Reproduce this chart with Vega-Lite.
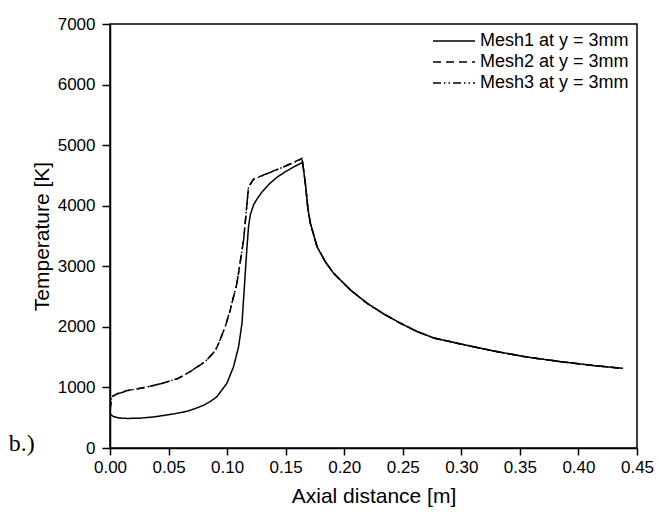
{
  "$schema": "https://vega.github.io/schema/vega-lite/v6.json",
  "width": 527,
  "height": 424,
  "autosize": {"type": "none"},
  "padding": {"left": 110, "top": 24, "right": 22, "bottom": 64},
  "background": "white",
  "config": {
    "view": {"stroke": "black", "strokeWidth": 1.5},
    "font": "Liberation Sans",
    "axis": {
      "domainColor": "black",
      "domainWidth": 1.5,
      "tickColor": "black",
      "tickWidth": 1.5,
      "labelColor": "black",
      "titleColor": "black",
      "labelFont": "Liberation Sans",
      "titleFont": "Liberation Sans",
      "labelFontSize": 17,
      "titleFontSize": 21,
      "titleFontWeight": "normal",
      "grid": false,
      "labelOverlap": false,
      "labelFlush": false
    },
    "legend": {
      "labelFont": "Liberation Sans",
      "labelFontSize": 18,
      "labelColor": "black"
    }
  },
  "layer": [
    {
      "data": {
        "values": [
          {"series": "Mesh1 at y = 3mm", "x": 0.0, "y": 560},
          {"series": "Mesh1 at y = 3mm", "x": 0.003, "y": 520},
          {"series": "Mesh1 at y = 3mm", "x": 0.008, "y": 495},
          {"series": "Mesh1 at y = 3mm", "x": 0.015, "y": 488},
          {"series": "Mesh1 at y = 3mm", "x": 0.025, "y": 492},
          {"series": "Mesh1 at y = 3mm", "x": 0.037, "y": 512},
          {"series": "Mesh1 at y = 3mm", "x": 0.045, "y": 535},
          {"series": "Mesh1 at y = 3mm", "x": 0.055, "y": 565},
          {"series": "Mesh1 at y = 3mm", "x": 0.0656, "y": 605},
          {"series": "Mesh1 at y = 3mm", "x": 0.0727, "y": 650},
          {"series": "Mesh1 at y = 3mm", "x": 0.0798, "y": 705},
          {"series": "Mesh1 at y = 3mm", "x": 0.0855, "y": 765},
          {"series": "Mesh1 at y = 3mm", "x": 0.0913, "y": 847},
          {"series": "Mesh1 at y = 3mm", "x": 0.0998, "y": 1068},
          {"series": "Mesh1 at y = 3mm", "x": 0.1055, "y": 1342},
          {"series": "Mesh1 at y = 3mm", "x": 0.1098, "y": 1672},
          {"series": "Mesh1 at y = 3mm", "x": 0.1127, "y": 2058},
          {"series": "Mesh1 at y = 3mm", "x": 0.1155, "y": 2884},
          {"series": "Mesh1 at y = 3mm", "x": 0.1169, "y": 3300},
          {"series": "Mesh1 at y = 3mm", "x": 0.1183, "y": 3654},
          {"series": "Mesh1 at y = 3mm", "x": 0.1198, "y": 3850},
          {"series": "Mesh1 at y = 3mm", "x": 0.1225, "y": 4010},
          {"series": "Mesh1 at y = 3mm", "x": 0.1255, "y": 4110},
          {"series": "Mesh1 at y = 3mm", "x": 0.1295, "y": 4220},
          {"series": "Mesh1 at y = 3mm", "x": 0.1360, "y": 4360},
          {"series": "Mesh1 at y = 3mm", "x": 0.1426, "y": 4470},
          {"series": "Mesh1 at y = 3mm", "x": 0.1500, "y": 4565},
          {"series": "Mesh1 at y = 3mm", "x": 0.1568, "y": 4640},
          {"series": "Mesh1 at y = 3mm", "x": 0.1645, "y": 4715},
          {"series": "Mesh1 at y = 3mm", "x": 0.1668, "y": 4370},
          {"series": "Mesh1 at y = 3mm", "x": 0.1690, "y": 3950},
          {"series": "Mesh1 at y = 3mm", "x": 0.1711, "y": 3710},
          {"series": "Mesh1 at y = 3mm", "x": 0.1768, "y": 3323},
          {"series": "Mesh1 at y = 3mm", "x": 0.1840, "y": 3070},
          {"series": "Mesh1 at y = 3mm", "x": 0.191, "y": 2884},
          {"series": "Mesh1 at y = 3mm", "x": 0.2053, "y": 2609},
          {"series": "Mesh1 at y = 3mm", "x": 0.2196, "y": 2389},
          {"series": "Mesh1 at y = 3mm", "x": 0.2340, "y": 2210},
          {"series": "Mesh1 at y = 3mm", "x": 0.2481, "y": 2059},
          {"series": "Mesh1 at y = 3mm", "x": 0.2620, "y": 1925},
          {"series": "Mesh1 at y = 3mm", "x": 0.2766, "y": 1815},
          {"series": "Mesh1 at y = 3mm", "x": 0.3, "y": 1715},
          {"series": "Mesh1 at y = 3mm", "x": 0.3279, "y": 1600},
          {"series": "Mesh1 at y = 3mm", "x": 0.3565, "y": 1500},
          {"series": "Mesh1 at y = 3mm", "x": 0.385, "y": 1425},
          {"series": "Mesh1 at y = 3mm", "x": 0.4135, "y": 1360},
          {"series": "Mesh1 at y = 3mm", "x": 0.4378, "y": 1315},

          {"series": "Mesh2 at y = 3mm", "x": 0.0, "y": 640},
          {"series": "Mesh2 at y = 3mm", "x": 0.0014, "y": 847},
          {"series": "Mesh2 at y = 3mm", "x": 0.0071, "y": 903},
          {"series": "Mesh2 at y = 3mm", "x": 0.015, "y": 950},
          {"series": "Mesh2 at y = 3mm", "x": 0.03, "y": 1000},
          {"series": "Mesh2 at y = 3mm", "x": 0.045, "y": 1070},
          {"series": "Mesh2 at y = 3mm", "x": 0.0584, "y": 1150},
          {"series": "Mesh2 at y = 3mm", "x": 0.0684, "y": 1260},
          {"series": "Mesh2 at y = 3mm", "x": 0.0813, "y": 1425},
          {"series": "Mesh2 at y = 3mm", "x": 0.0898, "y": 1600},
          {"series": "Mesh2 at y = 3mm", "x": 0.0941, "y": 1783},
          {"series": "Mesh2 at y = 3mm", "x": 0.0985, "y": 2010},
          {"series": "Mesh2 at y = 3mm", "x": 0.1027, "y": 2278},
          {"series": "Mesh2 at y = 3mm", "x": 0.1084, "y": 2719},
          {"series": "Mesh2 at y = 3mm", "x": 0.1141, "y": 3434},
          {"series": "Mesh2 at y = 3mm", "x": 0.1183, "y": 4314},
          {"series": "Mesh2 at y = 3mm", "x": 0.1226, "y": 4440},
          {"series": "Mesh2 at y = 3mm", "x": 0.134, "y": 4530},
          {"series": "Mesh2 at y = 3mm", "x": 0.148, "y": 4640},
          {"series": "Mesh2 at y = 3mm", "x": 0.164, "y": 4780},
          {"series": "Mesh2 at y = 3mm", "x": 0.1668, "y": 4370},
          {"series": "Mesh2 at y = 3mm", "x": 0.1690, "y": 3950},
          {"series": "Mesh2 at y = 3mm", "x": 0.1711, "y": 3710},
          {"series": "Mesh2 at y = 3mm", "x": 0.1768, "y": 3323},
          {"series": "Mesh2 at y = 3mm", "x": 0.1840, "y": 3070},
          {"series": "Mesh2 at y = 3mm", "x": 0.191, "y": 2884},
          {"series": "Mesh2 at y = 3mm", "x": 0.2053, "y": 2609},
          {"series": "Mesh2 at y = 3mm", "x": 0.2196, "y": 2389},
          {"series": "Mesh2 at y = 3mm", "x": 0.2340, "y": 2210},
          {"series": "Mesh2 at y = 3mm", "x": 0.2481, "y": 2059},
          {"series": "Mesh2 at y = 3mm", "x": 0.2620, "y": 1925},
          {"series": "Mesh2 at y = 3mm", "x": 0.2766, "y": 1815},
          {"series": "Mesh2 at y = 3mm", "x": 0.3, "y": 1715},
          {"series": "Mesh2 at y = 3mm", "x": 0.3279, "y": 1600},
          {"series": "Mesh2 at y = 3mm", "x": 0.3565, "y": 1500},
          {"series": "Mesh2 at y = 3mm", "x": 0.385, "y": 1425},
          {"series": "Mesh2 at y = 3mm", "x": 0.4135, "y": 1360},
          {"series": "Mesh2 at y = 3mm", "x": 0.4378, "y": 1315},

          {"series": "Mesh3 at y = 3mm", "x": 0.0, "y": 620},
          {"series": "Mesh3 at y = 3mm", "x": 0.0014, "y": 840},
          {"series": "Mesh3 at y = 3mm", "x": 0.0071, "y": 898},
          {"series": "Mesh3 at y = 3mm", "x": 0.015, "y": 948},
          {"series": "Mesh3 at y = 3mm", "x": 0.03, "y": 1002},
          {"series": "Mesh3 at y = 3mm", "x": 0.045, "y": 1068},
          {"series": "Mesh3 at y = 3mm", "x": 0.0584, "y": 1152},
          {"series": "Mesh3 at y = 3mm", "x": 0.0684, "y": 1262},
          {"series": "Mesh3 at y = 3mm", "x": 0.0813, "y": 1428},
          {"series": "Mesh3 at y = 3mm", "x": 0.0898, "y": 1605},
          {"series": "Mesh3 at y = 3mm", "x": 0.0941, "y": 1790},
          {"series": "Mesh3 at y = 3mm", "x": 0.0985, "y": 2015},
          {"series": "Mesh3 at y = 3mm", "x": 0.1027, "y": 2285},
          {"series": "Mesh3 at y = 3mm", "x": 0.1084, "y": 2725},
          {"series": "Mesh3 at y = 3mm", "x": 0.1141, "y": 3440},
          {"series": "Mesh3 at y = 3mm", "x": 0.1183, "y": 4310},
          {"series": "Mesh3 at y = 3mm", "x": 0.1226, "y": 4435},
          {"series": "Mesh3 at y = 3mm", "x": 0.134, "y": 4528},
          {"series": "Mesh3 at y = 3mm", "x": 0.148, "y": 4638},
          {"series": "Mesh3 at y = 3mm", "x": 0.164, "y": 4775},
          {"series": "Mesh3 at y = 3mm", "x": 0.1668, "y": 4370},
          {"series": "Mesh3 at y = 3mm", "x": 0.1690, "y": 3950},
          {"series": "Mesh3 at y = 3mm", "x": 0.1711, "y": 3710},
          {"series": "Mesh3 at y = 3mm", "x": 0.1768, "y": 3323},
          {"series": "Mesh3 at y = 3mm", "x": 0.1840, "y": 3070},
          {"series": "Mesh3 at y = 3mm", "x": 0.191, "y": 2884},
          {"series": "Mesh3 at y = 3mm", "x": 0.2053, "y": 2609},
          {"series": "Mesh3 at y = 3mm", "x": 0.2196, "y": 2389},
          {"series": "Mesh3 at y = 3mm", "x": 0.2340, "y": 2210},
          {"series": "Mesh3 at y = 3mm", "x": 0.2481, "y": 2059},
          {"series": "Mesh3 at y = 3mm", "x": 0.2620, "y": 1925},
          {"series": "Mesh3 at y = 3mm", "x": 0.2766, "y": 1815},
          {"series": "Mesh3 at y = 3mm", "x": 0.3, "y": 1715},
          {"series": "Mesh3 at y = 3mm", "x": 0.3279, "y": 1600},
          {"series": "Mesh3 at y = 3mm", "x": 0.3565, "y": 1500},
          {"series": "Mesh3 at y = 3mm", "x": 0.385, "y": 1425},
          {"series": "Mesh3 at y = 3mm", "x": 0.4135, "y": 1360},
          {"series": "Mesh3 at y = 3mm", "x": 0.4378, "y": 1315}
        ]
      },
      "mark": {"type": "line", "color": "black", "strokeWidth": 1.5, "clip": true},
      "encoding": {
        "x": {
          "field": "x",
          "type": "quantitative",
          "scale": {"domain": [0, 0.45], "nice": false, "zero": false},
          "axis": {
            "title": "Axial distance [m]",
            "values": [0, 0.025, 0.05, 0.075, 0.1, 0.125, 0.15, 0.175, 0.2, 0.225, 0.25, 0.275, 0.3, 0.325, 0.35, 0.375, 0.4, 0.425, 0.45],
            "format": ".2f",
            "labelExpr": "abs(datum.value*20 - round(datum.value*20)) < 0.001 ? datum.label : ''",
            "tickSize": 7,
            "labelPadding": 4,
            "titlePadding": 10,
            "encode": {
              "ticks": {
                "update": {
                  "y2": {"signal": "abs(datum.value*20 - round(datum.value*20)) < 0.001 ? 7 : 4"}
                }
              }
            }
          }
        },
        "y": {
          "field": "y",
          "type": "quantitative",
          "scale": {"domain": [0, 7000], "nice": false},
          "axis": {
            "title": "Temperature [K]",
            "values": [0, 500, 1000, 1500, 2000, 2500, 3000, 3500, 4000, 4500, 5000, 5500, 6000, 6500, 7000],
            "format": "d",
            "labelExpr": "datum.value % 1000 === 0 ? datum.label : ''",
            "tickSize": 8,
            "labelPadding": 7,
            "titlePadding": 5,
            "encode": {
              "ticks": {
                "update": {
                  "x2": {"signal": "datum.value % 1000 === 0 ? -8 : -4"}
                }
              }
            }
          }
        },
        "strokeDash": {
          "field": "series",
          "type": "nominal",
          "scale": {
            "domain": ["Mesh1 at y = 3mm", "Mesh2 at y = 3mm", "Mesh3 at y = 3mm"],
            "range": [[1, 0], [8, 5], [8, 3, 1.5, 3, 1.5, 3]]
          },
          "legend": {
            "title": null,
            "orient": "top-right",
            "offset": 6,
            "padding": 2,
            "symbolType": "M-1,0H5",
            "symbolSize": 196,
            "symbolStrokeWidth": 1.5,
            "symbolStrokeColor": "black",
            "symbolFillColor": "transparent",
            "labelOffset": 31,
            "rowPadding": 3
          }
        }
      }
    },
    {
      "data": {"values": [{"x": -0.0753, "y": 66, "t": "b.)"}]},
      "mark": {"type": "text", "font": "Liberation Serif", "fontSize": 24, "color": "black", "align": "center", "baseline": "middle"},
      "encoding": {
        "x": {"field": "x", "type": "quantitative"},
        "y": {"field": "y", "type": "quantitative"},
        "text": {"field": "t"}
      }
    }
  ]
}
